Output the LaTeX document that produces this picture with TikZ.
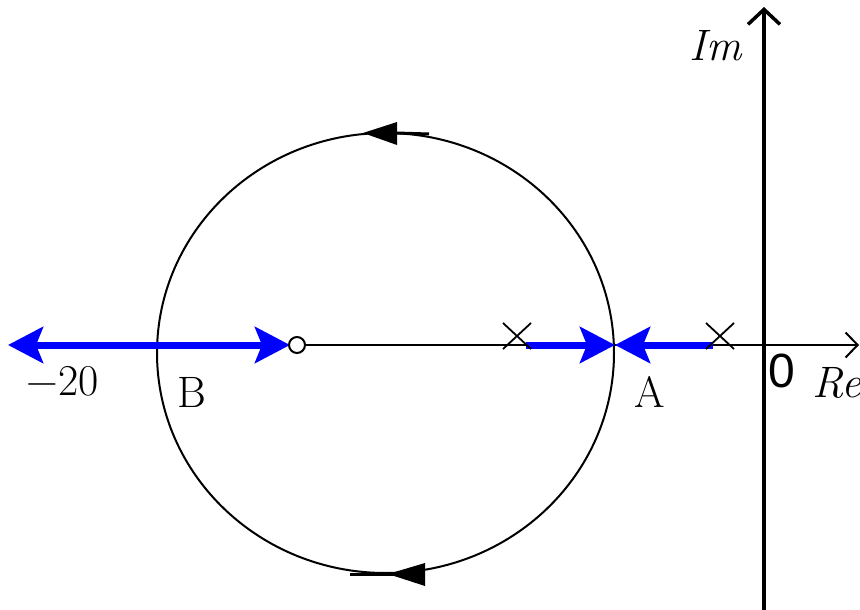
\documentclass[tikz,border=0pt]{standalone}
\usepackage{fontspec}
\newfontfamily\zerofont{Liberation Sans}
\usepackage{tikz}
\usetikzlibrary{calc, arrows.meta}

\begin{document}
\begin{tikzpicture}[x=1pt, y=-1pt,
        >={Stealth[length=35pt, width=36pt, inset=7pt]},
        axis/.style={black, line width=2pt},
        locus/.style={blue, line width=7pt},
        cross/.style={black, line width=1.8pt},
        lbl/.style={font=\fontsize{44}{50}\selectfont},
        zerolbl/.style={font=\zerofont\fontsize{48}{54}\selectfont}]
            \useasboundingbox (0,0) rectangle (860,610);
            \coordinate (O) at (764,345);
            \coordinate (Z) at (297,345);
            \coordinate (P1) at (517,336);
            \coordinate (P2) at (720,336);
            \coordinate (A) at (615,345);
            \coordinate (L) at (8,345);
            \coordinate (ReEnd) at (859,345);
            \coordinate (ImEnd) at (764,7);
            \coordinate (ImBot) at (764,610);
            % axes
            \draw[axis, -{Straight Barb[length=12pt, width=25pt]}] ($(Z)+(8,0)$) -- (ReEnd);
            \draw[black, line width=3.5pt, -{Straight Barb[length=15pt, width=32pt]}] (ImBot) -- (ImEnd);
            % root locus circle
            \draw[axis] (385.5,353) ellipse [x radius=228.5, y radius=220];
            \fill (363,133) -- (397,122) -- (397,145) -- cycle;
            \draw[black, line width=3pt] (396,133) -- (429,134);
            \fill (388,574) -- (425,563) -- (425,586) -- cycle;
            \draw[black, line width=3pt] (350,574) -- (396,574);
            % real axis branches
            \draw[locus, <->] (L) -- ($(Z)+(-7,0)$);
            \draw[locus, ->] ($(P1)+(9,9)$) -- (A);
            \draw[locus, ->] ($(P2)+(-7,9)$) -- (A);
            % poles and zero
            \foreach \p in {P1,P2}
                \draw[cross] ($(\p)+(-14,-13)$) -- ($(\p)+(14,13)$)
                             ($(\p)+(-14,13)$) -- ($(\p)+(14,-13)$);
            \draw[black, line width=2pt, fill=white] (Z) circle (8);
            % labels
            \node[lbl] at (63,381) {−20};
            \node[lbl] at (192,392) {B};
            \node[lbl] at (650,392) {A};
            \node[zerolbl] at (782,371) {0};
            \node[lbl, anchor=west, inner sep=0pt] at (812,383) {\textit{Re}};
            \node[lbl] at (716,46) {\textit{Im}};
\end{tikzpicture}
\end{document}
